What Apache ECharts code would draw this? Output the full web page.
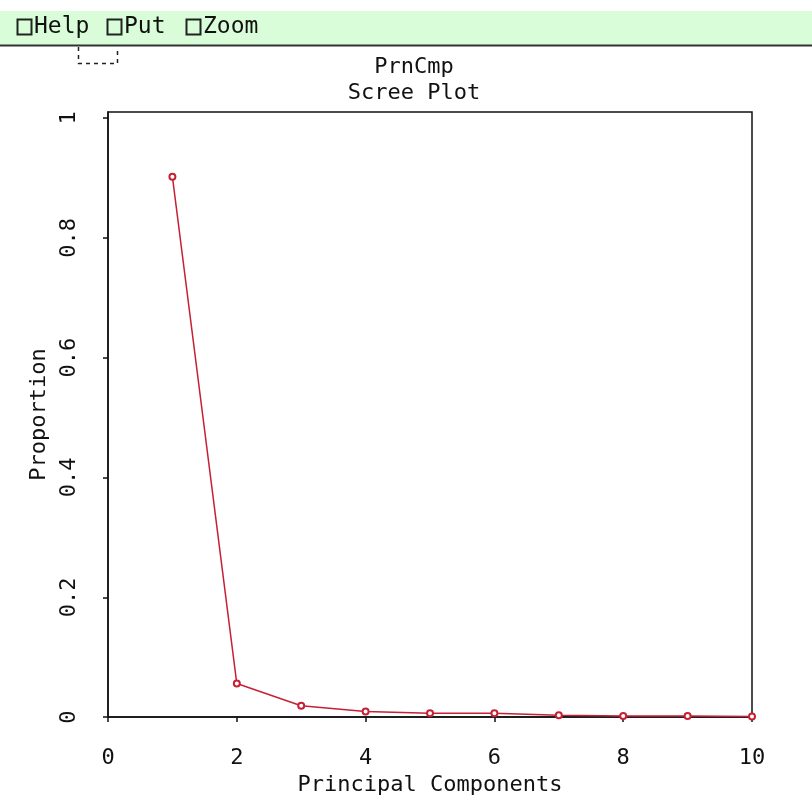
<!DOCTYPE html>
<html>
<head>
<meta charset="utf-8">
<style>
  html, body { margin: 0; padding: 0; background: #ffffff; }
  #chart { width: 812px; height: 801px; }
</style>
<script src="https://cdn.jsdelivr.net/npm/echarts@6/dist/echarts.min.js"></script>
</head>
<body>
<div id="chart"></div>
<script>
// ---- data ----
var components = [1, 2, 3, 4, 5, 6, 7, 8, 9, 10];
var proportion = [0.902, 0.056, 0.019, 0.0095, 0.0065, 0.0065, 0.003, 0.002, 0.002, 0.001];
var xTickValues = [0, 2, 4, 6, 8, 10];
var yTickValues = [0, 0.2, 0.4, 0.6, 0.8, 1];
var titleLines = ['PrnCmp', 'Scree Plot'];
var menuItems = ['Help', 'Put', 'Zoom'];

var FONT = '"DejaVu Sans Mono", monospace';
var chart = echarts.init(document.getElementById('chart'));

var points = components.map(function (c, i) { return [c, proportion[i]]; });

// toolbar graphics
var graphics = [
  { type: 'rect', shape: { x: 0, y: 11, width: 812, height: 34 }, style: { fill: '#d9fcd9' }, silent: true },
  { type: 'line', shape: { x1: 0, y1: 45.5, x2: 812, y2: 45.5 }, style: { stroke: '#333', lineWidth: 2 }, silent: true },
  { type: 'polyline', shape: { points: [[78.5, 47], [78.5, 63.5], [117.5, 63.5], [117.5, 47]] },
    style: { stroke: '#222', lineWidth: 1.5, lineDash: [4, 4], fill: null }, silent: true }
];
var menuX = [17, 107, 186];
var menuTextX = [34, 124, 203];
menuItems.forEach(function (t, i) {
  graphics.push({ type: 'rect', shape: { x: menuX[i] + 0.5, y: 19.5, width: 14, height: 15 },
    style: { fill: 'none', stroke: '#222', lineWidth: 2 }, silent: true });
  graphics.push({ type: 'text', x: menuTextX[i], y: 27.5,
    style: { text: t, font: '23px ' + FONT, fill: '#111', textVerticalAlign: 'middle' }, silent: true });
});
titleLines.forEach(function (t, i) {
  graphics.push({ type: 'text', x: 414, y: 67 + i * 26,
    style: { text: t, font: '22px ' + FONT, fill: '#111', textAlign: 'center', textVerticalAlign: 'middle' }, silent: true });
});

var option = {
  backgroundColor: '#ffffff',
  animation: false,
  graphic: graphics,
  grid: { left: 108, right: 60, top: 112, bottom: 83, show: true, borderColor: '#111', borderWidth: 1.5, backgroundColor: 'transparent' },
  xAxis: {
    type: 'value', min: 0, max: 10, interval: 2,
    name: 'Principal Components', nameLocation: 'middle', nameGap: 54,
    nameTextStyle: { fontFamily: FONT, fontSize: 22, color: '#111' },
    axisLine: { show: true, lineStyle: { color: '#111', width: 1.5 } },
    axisTick: { show: true, inside: false, length: 5, lineStyle: { color: '#111', width: 1.5 } },
    axisLabel: { show: true, margin: 30, fontFamily: FONT, fontSize: 22, color: '#111',
      customValues: xTickValues },
    splitLine: { show: false }
  },
  yAxis: {
    type: 'value', min: 0, max: 1.01,
    name: 'Proportion', nameLocation: 'middle', nameGap: 58, nameRotate: 90,
    nameTextStyle: { fontFamily: FONT, fontSize: 22, color: '#111' },
    axisLine: { show: true, lineStyle: { color: '#111', width: 1.5 } },
    axisTick: { show: true, inside: false, length: 5, lineStyle: { color: '#111', width: 1.5 },
      customValues: yTickValues },
    axisLabel: { show: true, rotate: 90, margin: 28, fontFamily: FONT, fontSize: 22, color: '#111',
      customValues: yTickValues,
      formatter: function (v) { return String(Math.round(v * 10) / 10); } },
    splitLine: { show: false }
  },
  series: [{
    type: 'line',
    data: points,
    symbol: 'emptyCircle', symbolSize: 6,
    lineStyle: { color: '#c62035', width: 1.5 },
    itemStyle: { color: '#c62035', borderColor: '#c62035', borderWidth: 1.5 },
    z: 3
  }]
};
chart.setOption(option);
</script>
</body>
</html>
